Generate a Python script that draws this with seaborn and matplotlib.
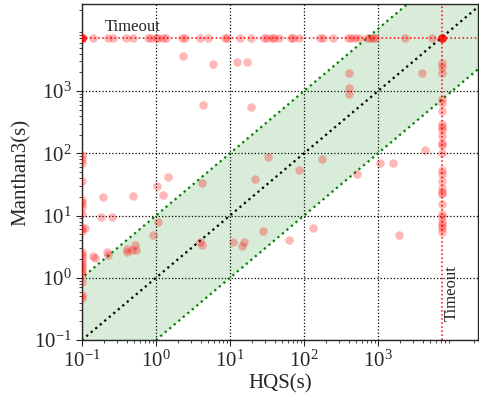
import matplotlib
matplotlib.use("Agg")
import matplotlib.pyplot as plt
import matplotlib.ticker as mticker
import numpy as np
import pandas as pd
import seaborn as sns

TIMEOUT = 7200
MIN_T = 0.1

# HQS time of instances where Manthan3 timed out
row_hqs = [0.1, 0.1, 0.1, 0.1, 0.1, 0.1, 0.141, 0.224, 0.262, 0.394, 0.489, 0.78,
           0.855, 1.0, 1.06, 1.24, 1.37, 2.25, 2.46, 3.94, 5.05, 8.55, 9.1, 13.6,
           19.2, 28.8, 31.6, 37, 39.4, 45.9, 66.7, 71, 85.5, 164, 181, 247, 394,
           432, 489, 554, 710, 780, 855, 910, 2317, 5370,
           7200, 7200, 7200, 7200, 7200, 7200]
# Manthan3 time of instances where HQS timed out
col_manthan = [2825, 2437, 1954, 747, 644, 480, 297, 265, 238, 190, 147, 136, 101,
               54, 46.7, 36, 27.8, 24, 22.3, 15.4, 10.6, 9.5, 7.9, 7.1, 6.35, 5.5]
# Manthan3 time of instances HQS solved instantly (<= 0.1 s)
left_manthan = [94, 81, 70, 36, 17.9, 16, 13.8, 10.6, 6.35, 5.7, 2.6, 2.34, 2.1,
                1.8, 1.62, 1.45, 1.3, 1.16, 0.86, 0.53, 0.48]
# Remaining instances (HQS time, Manthan3 time)
other_hqs = [2.28, 5.83, 12.3, 17.2, 4.27, 19.2, 409, 409, 409, 3970, 33, 173, 86.3,
             21.8, 515, 1064, 1581, 4315, 1.47, 1.02, 1.26, 0.484, 0.192, 0.181,
             0.252, 4.15, 1.08, 0.91, 0.111, 27.7, 131, 10.9, 14.7, 15.6, 3.94,
             4.15, 63.3, 1905, 0.52, 0.402, 0.406, 0.47, 0.537, 0.216, 0.224,
             0.142, 0.152]
other_manthan = [3660, 2720, 2965, 2930, 598, 550, 1930, 1109, 889, 1973, 88.5, 80.4,
                 54.2, 38.4, 46.2, 71, 71, 111, 42.3, 30, 21.1, 20.7, 19.5, 9.4, 9.6,
                 33.1, 7.78, 4.81, 6.28, 5.74, 6.28, 3.69, 3.26, 3.74, 3.76, 3.32,
                 3.97, 4.81, 3.39, 2.89, 2.55, 2.81, 2.76, 2.55, 2.30, 2.20, 2.06]

major_ticks = [0.1, 1, 10, 100, 1000]

hqs = row_hqs + [TIMEOUT] * len(col_manthan) + [MIN_T] * len(left_manthan) + other_hqs
man = [TIMEOUT] * len(row_hqs) + col_manthan + left_manthan + other_manthan
df = pd.DataFrame({"HQS": hqs, "Manthan3": man})

sns.set_style("ticks")
plt.rcParams["font.family"] = ["Liberation Serif", "DejaVu Serif"]
plt.rcParams["mathtext.fontset"] = "stix"

fig = plt.figure(figsize=(4.79, 3.96), dpi=100)
ax = fig.add_axes([82 / 479, 1 - 340 / 396, (478 - 82) / 479, (340 - 4) / 396])

ax.set_xscale("log")
ax.set_yscale("log")
xmax, ymax = 22400, 25000
ax.set_xlim(MIN_T, xmax)
ax.set_ylim(MIN_T, ymax)

diag = np.array([MIN_T / 10, 1e6])
ax.fill_between(diag, diag / 10, diag * 10, color="green", alpha=0.15, linewidth=0, zorder=1)
ax.plot(diag, diag * 10, color="green", linestyle=":", linewidth=1.6, zorder=2)
ax.plot(diag, diag / 10, color="green", linestyle=":", linewidth=1.6, zorder=2)
ax.plot(diag, diag, color="black", linestyle=":", linewidth=1.6, zorder=2)

ax.axhline(TIMEOUT, color="red", linestyle=":", linewidth=1.1, zorder=2)
ax.axvline(TIMEOUT, color="red", linestyle=":", linewidth=1.1, zorder=2)

for axis in (ax.xaxis, ax.yaxis):
    axis.set_major_locator(mticker.FixedLocator(major_ticks))
    axis.set_major_formatter(mticker.LogFormatterSciNotation())
    axis.set_minor_locator(mticker.LogLocator(base=10, subs=np.arange(2, 10), numticks=20))
    axis.set_minor_formatter(mticker.NullFormatter())

ax.grid(True, which="major", color="black", linestyle=":", linewidth=0.9)

sns.scatterplot(data=df, x="HQS", y="Manthan3", ax=ax, color="red", alpha=0.28,
                s=38, linewidth=0, zorder=3)

ax.text(0.205, 8000, "Timeout", fontsize=12, ha="left", va="bottom")
ax.text(7600, 0.2, "Timeout", fontsize=12, rotation=90, ha="left", va="bottom")

ax.set_xlabel("HQS(s)", fontsize=15, labelpad=2)
ax.set_ylabel("Manthan3(s)", fontsize=15, labelpad=2)
ax.tick_params(axis="both", which="major", labelsize=15, length=4, width=0.8, direction="out")
ax.tick_params(axis="both", which="minor", length=2, width=0.6, direction="out")
for sp in ax.spines.values():
    sp.set_linewidth(1.0)

fig.savefig("out.png", dpi=100)
